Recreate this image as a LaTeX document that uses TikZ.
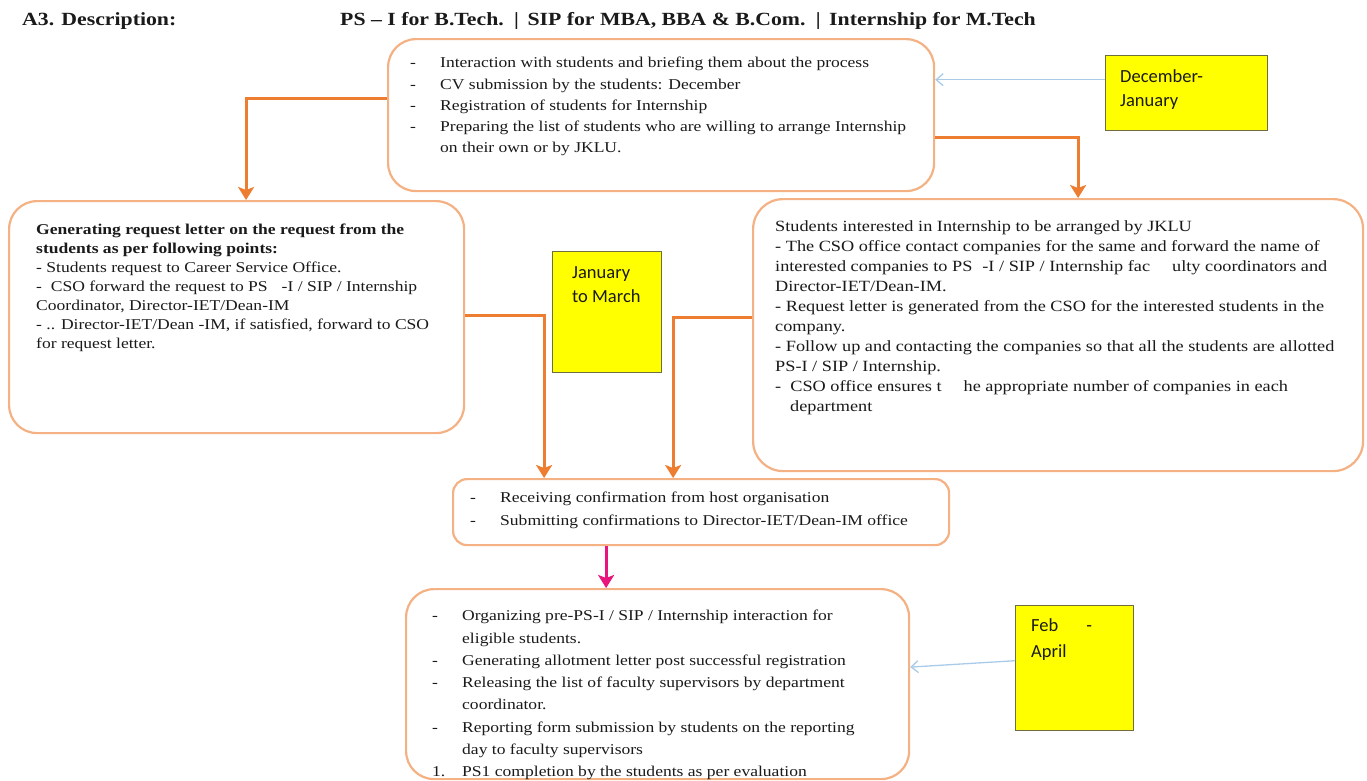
\documentclass[tikz,border=0pt]{standalone}
\usepackage{fontspec}
\setmainfont{Liberation Serif}[FakeStretch=1.17]
\newfontfamily\notefont{Carlito}
\usetikzlibrary{arrows.meta}

\definecolor{boxline}{HTML}{F4B183}
\definecolor{flow}{HTML}{ED7D31}
\definecolor{pinkflow}{HTML}{E8157F}
\definecolor{notearrow}{HTML}{A9CBEA}
\definecolor{noteedge}{HTML}{6E6E40}
\definecolor{notefill}{HTML}{FFFF00}
\definecolor{ink}{HTML}{1A1A1A}

\tikzset{
  stage/.style={draw=boxline, line width=2.2pt, fill=white, anchor=north west, inner sep=0pt},
  period/.style={draw=noteedge, line width=1.4pt, fill=notefill, anchor=north west, inner sep=0pt},
  txt/.style={anchor=north west, inner sep=0pt, align=left, text=ink},
  periodtxt/.style={anchor=north west, inner sep=0pt, align=left, text=ink, font=\notefont\fontsize{18.5}{24}\selectfont},
  flowarrow/.style={draw=flow, line width=3pt, -{Stealth[length=13pt,width=16pt,inset=3pt]}},
  pinkarrow/.style={draw=pinkflow, line width=3pt, -{Stealth[length=13pt,width=16pt,inset=3pt]}},
  notelink/.style={draw=notearrow, line width=1.3pt, -{Straight Barb[length=7pt,width=12pt]}}
}

\begin{document}
\begin{tikzpicture}[x=1pt, y=-1pt]
\useasboundingbox (0,0) rectangle (1367,780);

% heading
\node[txt, anchor=west, font=\bfseries\fontsize{18.6}{20}\selectfont] (label) at (22,21) {A3. Description:};
\node[txt, anchor=west, font=\bfseries\fontsize{18.6}{20}\selectfont] (heading) at (340,21)
  {PS -- I for B.Tech. \,|\, SIP for MBA, BBA \& B.Com. \,|\, Internship for M.Tech};

% process boxes
\node[stage, rounded corners=28pt, minimum width=546pt, minimum height=152pt] (top) at (387,38) {};
\node[stage, rounded corners=28pt, minimum width=455pt, minimum height=232pt] (left) at (8,200) {};
\node[stage, rounded corners=30pt, minimum width=610pt, minimum height=272pt] (right) at (752,198) {};
\node[stage, rounded corners=14pt, minimum width=496pt, minimum height=66pt] (mid) at (452,478) {};
\node[stage, rounded corners=28pt, minimum width=503pt, minimum height=190pt] (bot) at (405,588) {};

% time periods
\node[period, minimum width=162pt, minimum height=75pt] (decjan) at (1105,55) {};
\node[period, minimum width=109pt, minimum height=121pt] (janmar) at (552,251) {};
\node[period, minimum width=118pt, minimum height=125pt] (febapr) at (1015,605) {};

\node[periodtxt] (decjantxt) at (1120,69) {December-\\January};
\node[periodtxt] (janmartxt) at (572,266) {January\\to March};
\node[periodtxt] (febaprtxt) at (1031,618) {Feb\hspace{28pt}-\\[2pt]April};

% box texts
\node[txt] (toptxt) at (410,52.6) {\fontsize{15}{21.3}\selectfont
\begin{tabular}{@{}p{30pt}@{}l@{}}
- & Interaction with students and briefing them about the process\\
- & CV submission by the students: December\\
- & Registration of students for Internship\\
- & Preparing the list of students who are willing to arrange Internship\\
  & on their own or by JKLU.
\end{tabular}};

\node[txt] (lefttxt) at (36,221.2) {\fontsize{15}{19}\selectfont
\begin{tabular}{@{}l@{}}
\textbf{Generating request letter on the request from the}\\
\textbf{students as per following points:}\\
- Students request to Career Service Office.\\
-\ \ CSO forward the request to PS\hspace{14pt}-I / SIP / Internship\\
Coordinator, Director-IET/Dean-IM\\
- .. Director-IET/Dean -IM, if satisfied, forward to CSO\\
for request letter.
\end{tabular}};

\node[txt] (righttxt) at (775,217.5) {\fontsize{15.6}{20}\selectfont
\begin{tabular}{@{}l@{}}
Students interested in Internship to be arranged by JKLU\\
- The CSO office contact companies for the same and forward the name of\\
interested companies to PS\hspace{10pt}-I / SIP / Internship fac\hspace{22pt}ulty coordinators and\\
Director-IET/Dean-IM.\\
- Request letter is generated from the CSO for the interested students in the\\
company.\\
- Follow up and contacting the companies so that all the students are allotted\\
PS-I / SIP / Internship.\\
-\ \ CSO office ensures t\hspace{22pt}he appropriate number of companies in each\\
\hspace{15pt}department
\end{tabular}};

\node[txt] (midtxt) at (470,486.4) {\fontsize{15}{23}\selectfont
\begin{tabular}{@{}p{30pt}@{}l@{}}
- & Receiving confirmation from host organisation\\
- & Submitting confirmations to Director-IET/Dean-IM office
\end{tabular}};

\node[txt] (bottxt) at (432,604.9) {\fontsize{15}{22.3}\selectfont
\begin{tabular}{@{}p{30pt}@{}l@{}}
- & Organizing pre-PS-I / SIP / Internship interaction for\\
  & eligible students.\\
- & Generating allotment letter post successful registration\\
- & Releasing the list of faculty supervisors by department\\
  & coordinator.\\
- & Reporting form submission by students on the reporting\\
  & day to faculty supervisors\\
1. & PS1 completion by the students as per evaluation
\end{tabular}};

% flow connectors
\draw[flowarrow] ([yshift=-60pt]top.north west) -| ([xshift=9.5pt]left.north);
\draw[flowarrow] ([yshift=-99pt]top.north east) -| ([xshift=20pt]right.north);
\draw[flowarrow] ([yshift=-115pt]left.north east) -| ([xshift=-157pt]mid.north);
\draw[flowarrow] ([yshift=-119pt]right.north west) -| ([xshift=-28pt]mid.north);
\draw[pinkarrow] ([xshift=-95pt]mid.south) -- ([xshift=-95pt]mid.south |- bot.north);

% period pointers
\draw[notelink] ([yshift=13.5pt]decjan.west) -- ([yshift=13.5pt]decjan.west -| top.east);
\draw[notelink] ([yshift=7.5pt]febapr.west) -- ([yshift=17pt]bot.east);
\end{tikzpicture}
\end{document}
